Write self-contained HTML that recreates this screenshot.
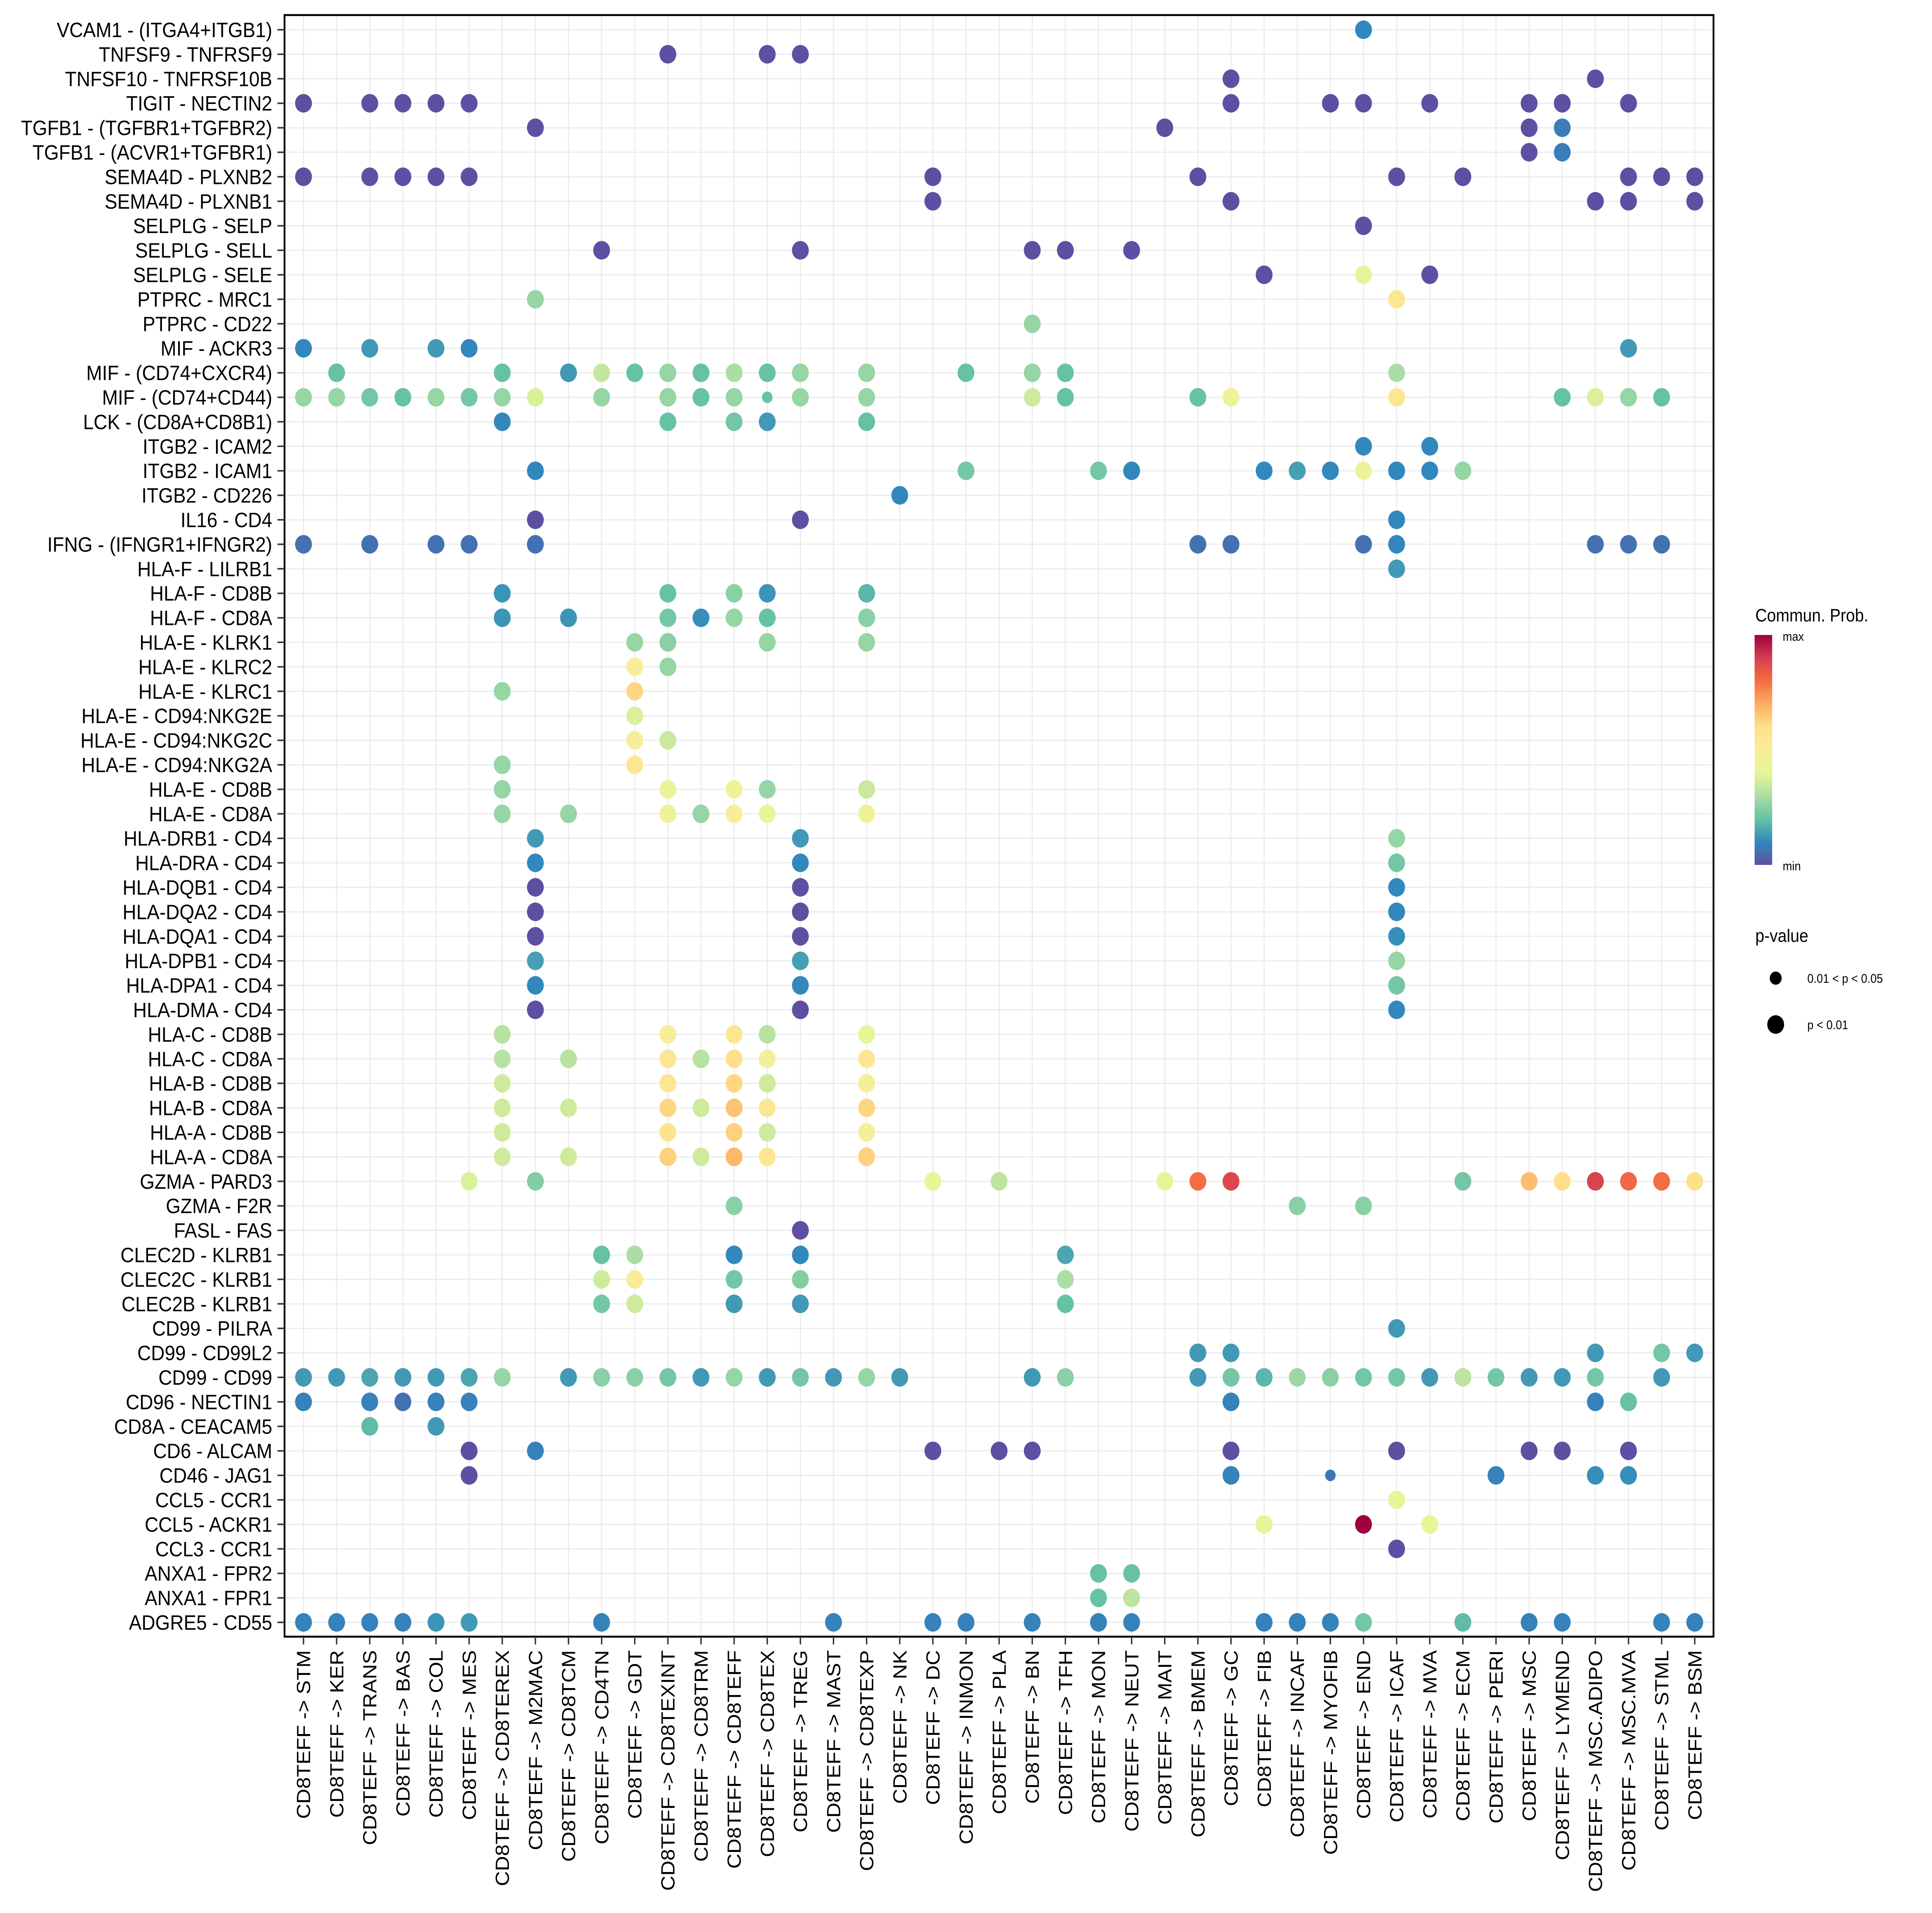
<!DOCTYPE html>
<html><head><meta charset="utf-8">
<style>
html,body{margin:0;padding:0;background:#fff;width:100%;height:100%;overflow:hidden;}
svg{display:block;font-family:"Liberation Sans",sans-serif;width:100vw;height:100vh;}
</style></head>
<body>
<svg id="chart" viewBox="0 0 5500 4950" preserveAspectRatio="none" xmlns="http://www.w3.org/2000/svg" overflow="hidden">
<rect width="5500" height="4950" fill="#fff"/>
<g id="grid"></g>
<g id="dots"></g>
<rect x="810" y="39" width="4068" height="4196" fill="none" stroke="#000" stroke-width="5"/>
<g id="ylab"></g>
<g id="xlab"></g>
<g>
<text x="4997" y="1608" font-size="46">Commun. Prob.</text>
<defs><linearGradient id="spec" x1="0" y1="1" x2="0" y2="0">
<stop offset="0" stop-color="#5E4FA2"/><stop offset="0.1" stop-color="#3288BD"/><stop offset="0.2" stop-color="#66C2A5"/><stop offset="0.3" stop-color="#ABDDA4"/><stop offset="0.4" stop-color="#E6F598"/><stop offset="0.5" stop-color="#F8EE9A"/><stop offset="0.6" stop-color="#FEE08B"/><stop offset="0.7" stop-color="#FDAE61"/><stop offset="0.8" stop-color="#F46D43"/><stop offset="0.9" stop-color="#D53E4F"/><stop offset="1" stop-color="#9E0142"/>
</linearGradient></defs>
<rect x="4995" y="1643" width="50" height="595" fill="url(#spec)"/>
<text x="5075" y="1658" font-size="32">max</text>
<text x="5075" y="2252" font-size="32">min</text>
</g>
<g>
<text x="4997" y="2437" font-size="46">p-value</text>
<circle cx="5055" cy="2531" r="17" fill="#000"/>
<text x="5145" y="2543" font-size="32">0.01 &lt; p &lt; 0.05</text>
<circle cx="5055" cy="2651" r="24" fill="#000"/>
<text x="5145" y="2663" font-size="32">p &lt; 0.01</text>
</g>
</svg>
<script>
const rowLabels = ["VCAM1 - (ITGA4+ITGB1)","TNFSF9 - TNFRSF9","TNFSF10 - TNFRSF10B","TIGIT - NECTIN2","TGFB1 - (TGFBR1+TGFBR2)","TGFB1 - (ACVR1+TGFBR1)","SEMA4D - PLXNB2","SEMA4D - PLXNB1","SELPLG - SELP","SELPLG - SELL","SELPLG - SELE","PTPRC - MRC1","PTPRC - CD22","MIF - ACKR3","MIF - (CD74+CXCR4)","MIF - (CD74+CD44)","LCK - (CD8A+CD8B1)","ITGB2 - ICAM2","ITGB2 - ICAM1","ITGB2 - CD226","IL16 - CD4","IFNG - (IFNGR1+IFNGR2)","HLA-F - LILRB1","HLA-F - CD8B","HLA-F - CD8A","HLA-E - KLRK1","HLA-E - KLRC2","HLA-E - KLRC1","HLA-E - CD94:NKG2E","HLA-E - CD94:NKG2C","HLA-E - CD94:NKG2A","HLA-E - CD8B","HLA-E - CD8A","HLA-DRB1 - CD4","HLA-DRA - CD4","HLA-DQB1 - CD4","HLA-DQA2 - CD4","HLA-DQA1 - CD4","HLA-DPB1 - CD4","HLA-DPA1 - CD4","HLA-DMA - CD4","HLA-C - CD8B","HLA-C - CD8A","HLA-B - CD8B","HLA-B - CD8A","HLA-A - CD8B","HLA-A - CD8A","GZMA - PARD3","GZMA - F2R","FASL - FAS","CLEC2D - KLRB1","CLEC2C - KLRB1","CLEC2B - KLRB1","CD99 - PILRA","CD99 - CD99L2","CD99 - CD99","CD96 - NECTIN1","CD8A - CEACAM5","CD6 - ALCAM","CD46 - JAG1","CCL5 - CCR1","CCL5 - ACKR1","CCL3 - CCR1","ANXA1 - FPR2","ANXA1 - FPR1","ADGRE5 - CD55"];
const colKeys = ["STM","KER","TRANS","BAS","COL","MES","CD8TEREX","M2MAC","CD8TCM","CD4TN","GDT","CD8TEXINT","CD8TRM","CD8TEFF","CD8TEX","TREG","MAST","CD8TEXP","NK","DC","INMON","PLA","BN","TFH","MON","NEUT","MAIT","BMEM","GC","FIB","INCAF","MYOFIB","END","ICAF","MVA","ECM","PERI","MSC","LYMEND","MSC.ADIPO","MSC.MVA","STML","BSM"];
// points per row: [column, value(0=min..1=max), small(1 if 0.01<p<0.05)]
const rowPoints = [
[["END",0.1]],
[["CD8TEXINT",0],["CD8TEX",0],["TREG",0]],
[["GC",0],["MSC.ADIPO",0]],
[["STM",0],["TRANS",0],["BAS",0],["COL",0],["MES",0],["GC",0],["MYOFIB",0],["END",0],["MVA",0],["MSC",0],["LYMEND",0],["MSC.MVA",0]],
[["M2MAC",0],["MAIT",0],["MSC",0],["LYMEND",0.08]],
[["MSC",0],["LYMEND",0.08]],
[["STM",0],["TRANS",0],["BAS",0],["COL",0],["MES",0],["DC",0],["BMEM",0],["ICAF",0],["ECM",0],["MSC.MVA",0],["STML",0],["BSM",0]],
[["DC",0],["GC",0],["MSC.ADIPO",0],["MSC.MVA",0],["BSM",0]],
[["END",0]],
[["CD4TN",0],["TREG",0],["BN",0],["TFH",0],["NEUT",0]],
[["FIB",0],["END",0.4],["MVA",0]],
[["M2MAC",0.27],["ICAF",0.55]],
[["BN",0.27]],
[["STM",0.1],["TRANS",0.13],["COL",0.13],["MES",0.1],["MSC.MVA",0.13]],
[["KER",0.2],["CD8TEREX",0.2],["CD8TCM",0.13],["CD4TN",0.34],["GDT",0.2],["CD8TEXINT",0.27],["CD8TRM",0.2],["CD8TEFF",0.3],["CD8TEX",0.2],["TREG",0.27],["CD8TEXP",0.27],["INMON",0.2],["BN",0.27],["TFH",0.2],["ICAF",0.3]],
[["STM",0.27],["KER",0.27],["TRANS",0.22],["BAS",0.2],["COL",0.27],["MES",0.22],["CD8TEREX",0.27],["M2MAC",0.38],["CD4TN",0.27],["CD8TEXINT",0.27],["CD8TRM",0.2],["CD8TEFF",0.27],["CD8TEX",0.2,1],["TREG",0.27],["CD8TEXP",0.27],["BN",0.36],["TFH",0.2],["BMEM",0.2],["GC",0.45],["ICAF",0.55],["LYMEND",0.2],["MSC.ADIPO",0.38],["MSC.MVA",0.27],["STML",0.2]],
[["CD8TEREX",0.1],["CD8TEXINT",0.2],["CD8TEFF",0.22],["CD8TEX",0.13],["CD8TEXP",0.2]],
[["END",0.1],["MVA",0.1]],
[["M2MAC",0.1],["INMON",0.22],["MON",0.22],["NEUT",0.1],["FIB",0.1],["INCAF",0.14],["MYOFIB",0.1],["END",0.44],["ICAF",0.1],["MVA",0.1],["ECM",0.27]],
[["NK",0.1]],
[["M2MAC",0],["TREG",0],["ICAF",0.1]],
[["STM",0.06],["TRANS",0.06],["COL",0.06],["MES",0.06],["M2MAC",0.06],["BMEM",0.06],["GC",0.06],["END",0.06],["ICAF",0.1],["MSC.ADIPO",0.06],["MSC.MVA",0.06],["STML",0.06]],
[["ICAF",0.13]],
[["CD8TEREX",0.12],["CD8TEXINT",0.2],["CD8TEFF",0.25],["CD8TEX",0.12],["CD8TEXP",0.18]],
[["CD8TEREX",0.12],["CD8TCM",0.12],["CD8TEXINT",0.22],["CD8TRM",0.11],["CD8TEFF",0.27],["CD8TEX",0.2],["CD8TEXP",0.25]],
[["GDT",0.27],["CD8TEXINT",0.25],["CD8TEX",0.27],["CD8TEXP",0.27]],
[["GDT",0.5],["CD8TEXINT",0.27]],
[["CD8TEREX",0.27],["GDT",0.62]],
[["GDT",0.38]],
[["GDT",0.5],["CD8TEXINT",0.35]],
[["CD8TEREX",0.27],["GDT",0.55]],
[["CD8TEREX",0.27],["CD8TEXINT",0.42],["CD8TEFF",0.46],["CD8TEX",0.27],["CD8TEXP",0.35]],
[["CD8TEREX",0.27],["CD8TCM",0.27],["CD8TEXINT",0.44],["CD8TRM",0.27],["CD8TEFF",0.5],["CD8TEX",0.42],["CD8TEXP",0.45]],
[["M2MAC",0.13],["TREG",0.13],["ICAF",0.27]],
[["M2MAC",0.1],["TREG",0.1],["ICAF",0.22]],
[["M2MAC",0],["TREG",0],["ICAF",0.1]],
[["M2MAC",0],["TREG",0],["ICAF",0.1]],
[["M2MAC",0],["TREG",0],["ICAF",0.11]],
[["M2MAC",0.14],["TREG",0.14],["ICAF",0.27]],
[["M2MAC",0.1],["TREG",0.1],["ICAF",0.22]],
[["M2MAC",0],["TREG",0],["ICAF",0.1]],
[["CD8TEREX",0.32],["CD8TEXINT",0.5],["CD8TEFF",0.56],["CD8TEX",0.32],["CD8TEXP",0.4]],
[["CD8TEREX",0.32],["CD8TCM",0.32],["CD8TEXINT",0.55],["CD8TRM",0.32],["CD8TEFF",0.6],["CD8TEX",0.48],["CD8TEXP",0.56]],
[["CD8TEREX",0.36],["CD8TEXINT",0.56],["CD8TEFF",0.62],["CD8TEX",0.36],["CD8TEXP",0.47]],
[["CD8TEREX",0.36],["CD8TCM",0.36],["CD8TEXINT",0.62],["CD8TRM",0.36],["CD8TEFF",0.66],["CD8TEX",0.55],["CD8TEXP",0.62]],
[["CD8TEREX",0.36],["CD8TEXINT",0.57],["CD8TEFF",0.63],["CD8TEX",0.36],["CD8TEXP",0.48]],
[["CD8TEREX",0.36],["CD8TCM",0.36],["CD8TEXINT",0.63],["CD8TRM",0.36],["CD8TEFF",0.68],["CD8TEX",0.56],["CD8TEXP",0.63]],
[["MES",0.38],["M2MAC",0.24],["DC",0.42],["PLA",0.33],["MAIT",0.4],["BMEM",0.8],["GC",0.88],["ECM",0.22],["MSC",0.67],["LYMEND",0.6],["MSC.ADIPO",0.89],["MSC.MVA",0.81],["STML",0.8],["BSM",0.6]],
[["CD8TEFF",0.25],["INCAF",0.25],["END",0.25]],
[["TREG",0]],
[["CD4TN",0.2],["GDT",0.3],["CD8TEFF",0.1],["TREG",0.1],["TFH",0.15]],
[["CD4TN",0.36],["GDT",0.52],["CD8TEFF",0.22],["TREG",0.24],["TFH",0.3]],
[["CD4TN",0.22],["GDT",0.36],["CD8TEFF",0.13],["TREG",0.13],["TFH",0.2]],
[["ICAF",0.13]],
[["BMEM",0.13],["GC",0.13],["MSC.ADIPO",0.13],["STML",0.22],["BSM",0.13]],
[["STM",0.13],["KER",0.13],["TRANS",0.15],["BAS",0.13],["COL",0.13],["MES",0.15],["CD8TEREX",0.27],["CD8TCM",0.13],["CD4TN",0.25],["GDT",0.25],["CD8TEXINT",0.22],["CD8TRM",0.13],["CD8TEFF",0.27],["CD8TEX",0.13],["TREG",0.22],["MAST",0.13],["CD8TEXP",0.27],["NK",0.13],["BN",0.13],["TFH",0.25],["BMEM",0.13],["GC",0.22],["FIB",0.18],["INCAF",0.28],["MYOFIB",0.25],["END",0.22],["ICAF",0.22],["MVA",0.13],["ECM",0.33],["PERI",0.22],["MSC",0.13],["LYMEND",0.13],["MSC.ADIPO",0.22],["STML",0.13]],
[["STM",0.09],["TRANS",0.09],["BAS",0.06],["COL",0.09],["MES",0.09],["GC",0.09],["MSC.ADIPO",0.09],["MSC.MVA",0.2]],
[["TRANS",0.19],["COL",0.13]],
[["MES",0],["M2MAC",0.09],["DC",0],["PLA",0],["BN",0],["GC",0],["ICAF",0],["MSC",0],["LYMEND",0],["MSC.MVA",0]],
[["MES",0],["GC",0.09],["MYOFIB",0.07,1],["PERI",0.09],["MSC.ADIPO",0.11],["MSC.MVA",0.11]],
[["ICAF",0.4]],
[["FIB",0.4],["END",1],["MVA",0.4]],
[["ICAF",0]],
[["MON",0.2],["NEUT",0.2]],
[["MON",0.2],["NEUT",0.33]],
[["STM",0.09],["KER",0.09],["TRANS",0.09],["BAS",0.09],["COL",0.12],["MES",0.13],["CD4TN",0.09],["MAST",0.09],["DC",0.09],["INMON",0.09],["BN",0.09],["MON",0.09],["NEUT",0.09],["FIB",0.09],["INCAF",0.09],["MYOFIB",0.09],["END",0.22],["ECM",0.19],["MSC",0.09],["LYMEND",0.09],["STML",0.09],["BSM",0.09]]
];
</script>
<script>
const NS="http://www.w3.org/2000/svg";
const X0=864, XS=94.3, Y0=77, YS=63.4;
function xPos(i){return X0+i*XS;}
function yPos(j){return Y0+j*YS;}
const stops=["#5E4FA2","#3288BD","#66C2A5","#ABDDA4","#E6F598","#F8EE9A","#FEE08B","#FDAE61","#F46D43","#D53E4F","#9E0142"];
function hex(h){return [1,3,5].map(k=>parseInt(h.substr(k,2),16));}
function colorFor(v){v=Math.max(0,Math.min(1,v));const p=v*10;const i=Math.min(9,Math.floor(p));const f=p-i;const a=hex(stops[i]),b=hex(stops[i+1]);return "rgb("+a.map((c,k)=>Math.round(c+(b[k]-c)*f)).join(",")+")";}
function mk(tag,attrs,parent){const e=document.createElementNS(NS,tag);for(const k in attrs)e.setAttribute(k,attrs[k]);parent.appendChild(e);return e;}
const grid=document.getElementById("grid"),dots=document.getElementById("dots"),ylab=document.getElementById("ylab"),xlab=document.getElementById("xlab");
const yBottom=4235;
rowLabels.forEach((lab,j)=>{
  const y=yPos(j);
  const gl=mk("line",{x1:810,x2:4878,y1:y,y2:y,stroke:"#ebebeb","stroke-width":3},grid);
  
  
  const tk=mk("line",{x1:790,x2:810,y1:y,y2:y,stroke:"#333","stroke-width":4},ylab);
  
  
  const t=mk("text",{x:775,y:y+19,"text-anchor":"end","font-size":54},ylab);
  t.textContent=lab;
  
  
});
colKeys.forEach((c,i)=>{
  const x=xPos(i);
  const gl=mk("line",{x1:x,x2:x,y1:39,y2:yBottom,stroke:"#ebebeb","stroke-width":3},grid);
  
  
  const tk=mk("line",{x1:x,x2:x,y1:yBottom,y2:yBottom+20,stroke:"#333","stroke-width":4},xlab);
  
  
  const t=mk("text",{x:0,y:0,"text-anchor":"end","font-size":54,transform:"translate("+(x+19)+","+(yBottom+35)+") rotate(-90)"},xlab);
  t.textContent="CD8TEFF -> "+c;
  
  
});
rowPoints.forEach((pts,j)=>{
  pts.forEach(p=>{
    const i=colKeys.indexOf(p[0]);
    if(i<0)return;
    const c=mk("circle",{cx:xPos(i),cy:yPos(j),r:p[2]?15:24,fill:colorFor(p[1])},dots);
    
    
  });
});
</script>
</body></html>
